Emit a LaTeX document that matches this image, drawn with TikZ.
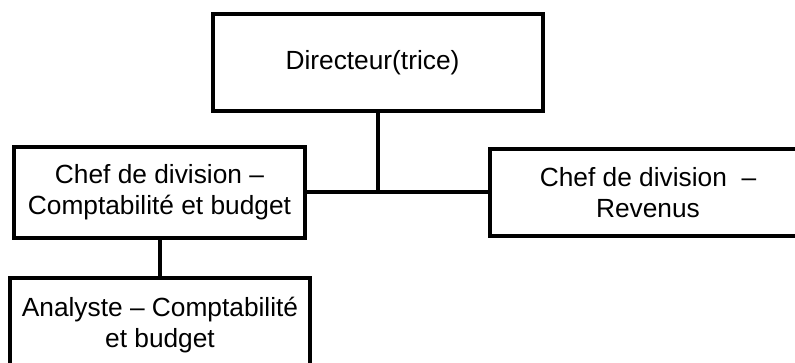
\documentclass[tikz,border=0pt]{standalone}
\usepackage{fontspec}
\setmainfont{Liberation Sans}
\begin{document}
\begin{tikzpicture}[x=1pt,y=-1pt,
  orgbox/.style={draw=black, line width=4pt, fill=white, align=center, inner sep=0pt, outer sep=0pt,
    font=\fontsize{26.3pt}{31pt}\selectfont},
  link/.style={draw=black, line width=4pt}]
\useasboundingbox (0,0) rectangle (795,363);
\clip (0,0) rectangle (795,363);
\node[orgbox, minimum width=330pt, minimum height=97pt] (dir) at (378,62.5) {Directeur(trice)\hspace*{11pt}};
\node[orgbox, minimum width=291pt, minimum height=91pt] (chefA) at (159.5,192.5) {Chef de division –\\Comptabilité et budget};
\node[orgbox, minimum width=316pt, minimum height=87pt] (chefB) at (648,192.5) {Chef de division\ \ –\\Revenus};
\node[orgbox, minimum width=300pt, minimum height=94pt] (anal) at (160,325) {Analyste – Comptabilité\\et budget};
\coordinate (hub) at (dir.south |- chefA.east);
\draw[link] (dir.south) -- (hub);
\draw[link] (chefA.east) -- (chefB.west);
\draw[link] (chefA.south) -- (chefA.south |- anal.north);
\end{tikzpicture}
\end{document}
